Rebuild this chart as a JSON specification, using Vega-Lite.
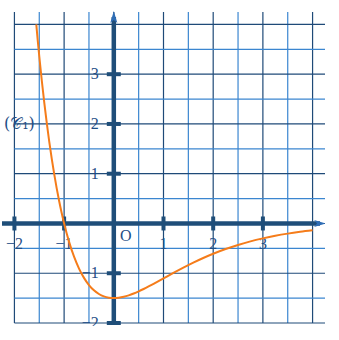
{
  "$schema": "https://vega.github.io/schema/vega-lite/v6.json",
  "autosize": "none",
  "width": 323,
  "height": 311,
  "padding": {"left": 2, "top": 12, "right": 0, "bottom": 3},
  "background": "white",
  "config": {"view": {"stroke": null}},
  "datasets": {
    "grid": [
      {"v": -2, "k": "major"}, {"v": -1.5, "k": "minor"}, {"v": -1, "k": "major"}, {"v": -0.5, "k": "minor"},
      {"v": 0, "k": "major"}, {"v": 0.5, "k": "minor"}, {"v": 1, "k": "major"}, {"v": 1.5, "k": "minor"},
      {"v": 2, "k": "major"}, {"v": 2.5, "k": "minor"}, {"v": 3, "k": "major"}, {"v": 3.5, "k": "minor"},
      {"v": 4, "k": "major"}
    ],
    "ticks": [
      {"v": -2, "t": "−2"}, {"v": -1, "t": "−1"}, {"v": 1, "t": "1"}, {"v": 2, "t": "2"}, {"v": 3, "t": "3"}
    ],
    "axes": [{"axis": "x"}],
    "origin": [{"t": "O"}],
    "curvelabel": [{"t": "(𝒞₁)", "x": -1.9, "y": 2.0}],
    "curve": [
      {"x": -1.56, "y": 4.0}, {"x": -1.53, "y": 3.671}, {"x": -1.5, "y": 3.361}, {"x": -1.45, "y": 2.878},
      {"x": -1.4, "y": 2.433}, {"x": -1.35, "y": 2.025}, {"x": -1.3, "y": 1.651}, {"x": -1.25, "y": 1.309},
      {"x": -1.2, "y": 0.996}, {"x": -1.15, "y": 0.711}, {"x": -1.1, "y": 0.451}, {"x": -1.05, "y": 0.214},
      {"x": -1.0, "y": 0.0}, {"x": -0.9, "y": -0.369}, {"x": -0.8, "y": -0.668}, {"x": -0.7, "y": -0.906},
      {"x": -0.6, "y": -1.093}, {"x": -0.5, "y": -1.237}, {"x": -0.4, "y": -1.343}, {"x": -0.3, "y": -1.417},
      {"x": -0.2, "y": -1.466}, {"x": -0.1, "y": -1.492}, {"x": 0.0, "y": -1.5}, {"x": 0.1, "y": -1.493},
      {"x": 0.2, "y": -1.474}, {"x": 0.3, "y": -1.445}, {"x": 0.4, "y": -1.408}, {"x": 0.5, "y": -1.365},
      {"x": 0.6, "y": -1.317}, {"x": 0.7, "y": -1.266}, {"x": 0.8, "y": -1.213}, {"x": 0.9, "y": -1.159},
      {"x": 1.0, "y": -1.104}, {"x": 1.2, "y": -0.994}, {"x": 1.4, "y": -0.888}, {"x": 1.6, "y": -0.787},
      {"x": 1.8, "y": -0.694}, {"x": 2.0, "y": -0.609}, {"x": 2.25, "y": -0.514}, {"x": 2.5, "y": -0.431},
      {"x": 2.75, "y": -0.359}, {"x": 3.0, "y": -0.299}, {"x": 3.25, "y": -0.247}, {"x": 3.5, "y": -0.204},
      {"x": 3.75, "y": -0.168}, {"x": 4.0, "y": -0.137}
    ]
  },
  "layer": [
    {
      "data": {"name": "grid"},
      "mark": {"type": "rule", "strokeWidth": 1.2},
      "encoding": {
        "x": {"field": "v", "type": "quantitative", "scale": {"domain": [-2.25, 4.25], "nice": false, "zero": false}, "axis": null},
        "y": {"datum": -2, "type": "quantitative", "scale": {"domain": [-2, 4.25], "nice": false, "zero": false}, "axis": null},
        "y2": {"datum": 4.25},
        "color": {"field": "k", "type": "nominal", "scale": {"domain": ["major", "minor"], "range": ["#1f4a78", "#3b86d0"]}, "legend": null}
      }
    },
    {
      "data": {"name": "grid"},
      "mark": {"type": "rule", "strokeWidth": 1.2},
      "encoding": {
        "y": {"field": "v", "type": "quantitative", "axis": null},
        "x": {"datum": -2, "type": "quantitative", "axis": null},
        "x2": {"datum": 4.25},
        "color": {"field": "k", "type": "nominal", "legend": null}
      }
    },
    {
      "data": {"name": "axes"},
      "mark": {"type": "rule", "strokeWidth": 4.5, "color": "#1f4e79"},
      "encoding": {
        "x": {"datum": -2.25, "type": "quantitative", "axis": null},
        "x2": {"datum": 4.15},
        "y": {"datum": 0, "type": "quantitative", "axis": null}
      }
    },
    {
      "data": {"name": "axes"},
      "mark": {"type": "rule", "strokeWidth": 4.5, "color": "#1f4e79"},
      "encoding": {
        "y": {"datum": -2, "type": "quantitative", "axis": null},
        "y2": {"datum": 4.15},
        "x": {"datum": 0, "type": "quantitative", "axis": null}
      }
    },
    {
      "data": {"name": "ticks"},
      "mark": {"type": "tick", "orient": "vertical", "size": 14, "thickness": 4, "color": "#1f4e79", "opacity": 1},
      "encoding": {
        "x": {"field": "v", "type": "quantitative", "axis": null},
        "y": {"datum": 0, "type": "quantitative", "axis": null}
      }
    },
    {
      "data": {"name": "ticks"},
      "mark": {"type": "tick", "orient": "horizontal", "size": 14, "thickness": 4, "color": "#1f4e79", "opacity": 1},
      "encoding": {
        "y": {"field": "v", "type": "quantitative", "axis": null},
        "x": {"datum": 0, "type": "quantitative", "axis": null}
      }
    },
    {
      "data": {"name": "ticks"},
      "mark": {"type": "text", "font": "Liberation Serif", "fontSize": 16, "color": "#1f4e86", "align": "center", "baseline": "middle", "dy": 21},
      "encoding": {
        "x": {"field": "v", "type": "quantitative", "axis": null},
        "y": {"datum": 0, "type": "quantitative", "axis": null},
        "text": {"field": "t"}
      }
    },
    {
      "data": {"name": "ticks"},
      "mark": {"type": "text", "font": "Liberation Serif", "fontSize": 16, "color": "#1f4e86", "align": "right", "baseline": "middle", "dx": -15},
      "encoding": {
        "y": {"field": "v", "type": "quantitative", "axis": null},
        "x": {"datum": 0, "type": "quantitative", "axis": null},
        "text": {"field": "t"}
      }
    },
    {
      "data": {"name": "origin"},
      "mark": {"type": "text", "font": "Liberation Serif", "fontSize": 16, "color": "#1f4e86", "align": "center", "baseline": "middle", "dx": 12, "dy": 13},
      "encoding": {
        "x": {"datum": 0, "type": "quantitative", "axis": null},
        "y": {"datum": 0, "type": "quantitative", "axis": null},
        "text": {"field": "t"}
      }
    },
    {
      "data": {"name": "curvelabel"},
      "mark": {"type": "text", "font": "DejaVu Serif", "fontSize": 16, "color": "#1f4e86", "align": "center", "baseline": "middle"},
      "encoding": {
        "x": {"field": "x", "type": "quantitative", "axis": null},
        "y": {"field": "y", "type": "quantitative", "axis": null},
        "text": {"field": "t"}
      }
    },
    {
      "data": {"name": "curve"},
      "mark": {"type": "line", "color": "#f57c1a", "strokeWidth": 2, "interpolate": "monotone"},
      "encoding": {
        "x": {"field": "x", "type": "quantitative", "axis": null},
        "y": {"field": "y", "type": "quantitative", "axis": null}
      }
    },
    {
      "data": {"name": "axes"},
      "mark": {"type": "point", "shape": "M 1 0 L -1 -0.6 L -0.5 0 L -1 0.6 Z", "size": 140, "filled": true, "color": "#2f6db5", "opacity": 1},
      "encoding": {
        "x": {"datum": 4.15, "type": "quantitative", "axis": null},
        "y": {"datum": 0, "type": "quantitative", "axis": null}
      }
    },
    {
      "data": {"name": "axes"},
      "mark": {"type": "point", "shape": "M 0 -1 L -0.6 1 L 0 0.5 L 0.6 1 Z", "size": 140, "filled": true, "color": "#2f6db5", "opacity": 1},
      "encoding": {
        "x": {"datum": 0, "type": "quantitative", "axis": null},
        "y": {"datum": 4.15, "type": "quantitative", "axis": null}
      }
    }
  ]
}
